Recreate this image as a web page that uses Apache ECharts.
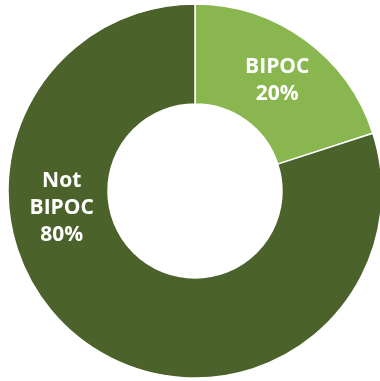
<!DOCTYPE html>
<html>
<head>
<meta charset="utf-8">
<script src="https://cdn.jsdelivr.net/npm/echarts@6/dist/echarts.min.js"></script>
<style>
  html, body { margin: 0; padding: 0; background: #fff; }
  #chart { width: 380px; height: 381px; }
</style>
</head>
<body>
<div id="chart"></div>
<script>
// Share of respondents by identity
const categories = ['BIPOC', 'Not BIPOC'];
const shares = [20, 80];
const displayNames = ['BIPOC', 'Not\nBIPOC'];
const colors = ['#8AB64F', '#4B622B'];

const chart = echarts.init(document.getElementById('chart'), null, { renderer: 'canvas' });

// label nudges so each label sits where it reads best in the ring
const labelOffsets = [[0, 3], [-51, -96]];

const data = categories.map((c, i) => ({
  name: c,
  value: shares[i],
  itemStyle: { color: colors[i] },
  label: {
    formatter: displayNames[i] + '\n' + shares[i] + '%',
    offset: labelOffsets[i]
  }
}));

chart.setOption({
  animation: false,
  series: [{
    type: 'pie',
    center: [195, 191],
    radius: [87, 187],
    startAngle: 90,
    clockwise: true,
    avoidLabelOverlap: false,
    itemStyle: { borderColor: '#ffffff', borderWidth: 1.5 },
    label: {
      show: true,
      position: 'inside',
      color: '#ffffff',
      fontFamily: 'Open Sans',
      fontWeight: 'bold',
      fontSize: 21,
      lineHeight: 27,
      align: 'center'
    },
    labelLine: { show: false },
    emphasis: { disabled: true },
    data: data
  }]
});
</script>
</body>
</html>
